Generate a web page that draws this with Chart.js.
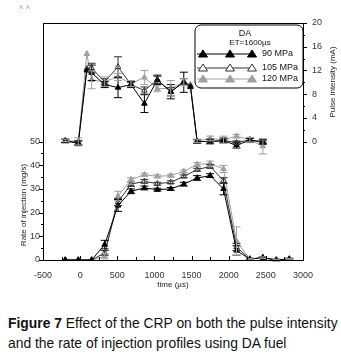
<!DOCTYPE html>
<html>
<head>
<meta charset="utf-8">
<script src="https://cdn.jsdelivr.net/npm/chart.js@4.4.0/dist/chart.umd.min.js"></script>
<style>
  body { margin: 0; background: #fff; width: 341px; height: 356px; overflow: hidden; font-family: "Liberation Sans", Arial, sans-serif; }
  #wrap { position: absolute; left: 0; top: 0; width: 341px; height: 300px; }
  #marks { position: absolute; left: 19px; top: 4px; font-size: 9px; color: #999; }
  #caption { position: absolute; left: 8px; top: 313px; font-family: "Liberation Sans", Arial, sans-serif; font-size: 15px; line-height: 20px; color: #111; white-space: nowrap; transform: scaleX(0.925); transform-origin: 0 0; }
</style>
</head>
<body>
<div id="wrap"><canvas id="chart"></canvas></div>
<div id="marks">^ ^</div>
<div id="caption"><b>Figure 7</b> Effect of the CRP on both the pulse intensity<br>and the rate of injection profiles using DA fuel</div>
<script>
// time axis (µs)
const rateTimes = [-200, -25, 155, 330, 510, 685, 865, 1040, 1220, 1395, 1575, 1750, 1930, 2105, 2285, 2460, 2640, 2815];
const pulseTimes = [-200, -25, 90, 155, 330, 510, 685, 865, 1040, 1220, 1395, 1485, 1575, 1750, 1930, 2105, 2285, 2460];

// rate of injection (mg/s), left axis
const rate90  = [0, 0, 0, 6.5, 23.0, 29.0, 30.4, 29.7, 30.0, 32.0, 34.6, 35.6, 30.0, 4.0, 0.4, 1.0, 0, 0.4];
const rate105 = [0, 0, 0, 3.0, 24.5, 32.0, 33.2, 32.2, 32.8, 35.3, 38.1, 39.5, 33.5, 5.5, 0.4, 1.0, 0, 0.4];
const rate120 = [0, 0, 0, 1.5, 27.0, 33.9, 36.0, 35.3, 35.6, 37.4, 40.3, 40.7, 38.4, 8.0, 0.4, 1.0, 0, 0.4];
const rate90Err  = [0, 0, 0, 1.8, 2.5, 1.0, 0.8, 0.6, 0.6, 0.8, 1.0, 0.8, 2.5, 2.0, 0.3, 0.3, 0.3, 0.3];
const rate105Err = [0, 0, 0, 1.0, 1.5, 1.0, 0.8, 0.6, 0.6, 0.6, 0.6, 0.8, 1.2, 1.5, 0.3, 0.3, 0.3, 0.3];
const rate120Err = [0, 0, 0, 1.0, 2.0, 0.8, 0.6, 0.6, 0.6, 0.6, 0.8, 1.0, 1.5, 6.0, 0.3, 0.3, 0.3, 0.3];

// pulse intensity (mA), right axis
const pulse90  = [0.1, -0.3, 12.0, 11.6, 9.6, 9.1, 9.6, 6.4, 10.4, 8.4, 10.0, 9.2, 0, 0, 0.1, -0.6, 0.2, 0];
const pulse105 = [0.1, -0.2, 12.3, 12.4, 10.1, 12.6, 9.6, 8.6, 10.4, 8.4, 10.1, 9.4, 0, 0, 0.2, -0.2, 0.3, -0.2];
const pulse120 = [0.2, 0, 14.8, 10.4, 10.1, 10.9, 9.8, 10.8, 8.9, 9.0, 10.0, 9.6, 0.1, 0.5, 0.3, 0.9, 0.3, -0.8];
const pulse90Err  = [0.3, 0.4, 0, 1.3, 0.5, 1.7, 0.5, 1.5, 0.8, 1.2, 1.7, 0, 0.3, 0.4, 0.3, 0.5, 0.3, 0.3];
const pulse105Err = [0.3, 0.3, 0, 0.8, 0.5, 1.7, 0.4, 0.6, 0.6, 0.7, 0.5, 0, 0.3, 0.3, 0.4, 0.3, 0.3, 0.3];
const pulse120Err = [0.2, 0.6, 0, 1.5, 0.8, 0.6, 0.5, 1.2, 0.5, 1.3, 0.6, 0, 0.3, 0.4, 0.6, 0.3, 0.4, 1.3];

const seriesNames = ['90 MPa', '105 MPa', '120 MPa'];
const lineColors = ['#000000', '#333333', '#a0a0a0'];
const fillColors = ['#000000', '#ffffff', '#a0a0a0'];

const FONT = '"Liberation Sans", Arial, sans-serif';

function points(times, values) {
    return times.map((t, i) => ({ x: t, y: values[i] }));
}

function makeSet(k, times, values, errs, axis) {
    return {
        label: seriesNames[k],
        data: points(times, values),
        errors: errs,
        yAxisID: axis,
        borderColor: lineColors[k],
        backgroundColor: fillColors[k],
        pointBorderColor: lineColors[k],
        pointBackgroundColor: fillColors[k],
        borderWidth: 1,
        pointStyle: 'triangle',
        pointRadius: 3.2,
        pointBorderWidth: 1,
        tension: 0,
        fill: false
    };
}

const datasets = [
    makeSet(0, rateTimes, rate90, rate90Err, 'y'),
    makeSet(1, rateTimes, rate105, rate105Err, 'y'),
    makeSet(2, rateTimes, rate120, rate120Err, 'y'),
    makeSet(0, pulseTimes, pulse90, pulse90Err, 'y2'),
    makeSet(1, pulseTimes, pulse105, pulse105Err, 'y2'),
    makeSet(2, pulseTimes, pulse120, pulse120Err, 'y2')
];

// error bars with caps
const errorBars = {
    id: 'errorBars',
    afterDatasetsDraw(chart) {
        const ctx = chart.ctx;
        chart.data.datasets.forEach((ds, i) => {
            const meta = chart.getDatasetMeta(i);
            const ys = chart.scales[ds.yAxisID];
            ctx.save();
            ctx.strokeStyle = ds.borderColor;
            ctx.lineWidth = 1;
            ds.data.forEach((p, j) => {
                const e = ds.errors[j];
                if (!e) return;
                const x = meta.data[j].x;
                const y1 = ys.getPixelForValue(p.y + e);
                const y2 = ys.getPixelForValue(p.y - e);
                ctx.beginPath();
                ctx.moveTo(x, y1); ctx.lineTo(x, y2);
                ctx.moveTo(x - 4, y1); ctx.lineTo(x + 4, y1);
                ctx.moveTo(x - 4, y2); ctx.lineTo(x + 4, y2);
                ctx.stroke();
            });
            ctx.restore();
        });
    }
};

// frame, tick marks, axis titles, legend
const decorations = {
    id: 'decorations',
    afterDraw(chart) {
        const ctx = chart.ctx;
        const a = chart.chartArea;
        const sx = chart.scales.x, sy = chart.scales.y, sy2 = chart.scales.y2;
        ctx.save();
        ctx.strokeStyle = '#000';
        ctx.lineWidth = 1;
        ctx.strokeRect(Math.round(a.left) + 0.5, Math.round(a.top) + 0.5, Math.round(a.right - a.left), Math.round(a.bottom - a.top));

        ctx.beginPath();
        for (let v = -500; v <= 3000; v += 250) {
            const x = Math.round(sx.getPixelForValue(v)) + 0.5;
            const len = v % 500 === 0 ? 4 : 3;
            ctx.moveTo(x, a.bottom); ctx.lineTo(x, a.bottom - len);
        }
        for (let v = 0; v <= 50; v += 5) {
            const y = Math.round(sy.getPixelForValue(v)) + 0.5;
            const len = v % 10 === 0 ? 4 : 2;
            ctx.moveTo(a.left, y); ctx.lineTo(a.left - len, y);
        }
        for (let v = 0; v <= 20; v += 2) {
            const y = Math.round(sy2.getPixelForValue(v)) + 0.5;
            const len = v % 4 === 0 ? 4 : 2;
            ctx.moveTo(a.right, y); ctx.lineTo(a.right + len, y);
        }
        ctx.stroke();

        // axis titles
        ctx.fillStyle = '#222';
        ctx.font = '8px ' + FONT;
        ctx.textAlign = 'center';
        ctx.textBaseline = 'middle';
        ctx.fillText('time (µs)', (a.left + a.right) / 2, 285);
        ctx.save();
        ctx.translate(24, 205);
        ctx.rotate(-Math.PI / 2);
        ctx.fillText('Rate of injection (mg/s)', 0, 0);
        ctx.restore();
        ctx.save();
        ctx.translate(333, 82);
        ctx.rotate(-Math.PI / 2);
        ctx.fillText('Pulse intensity (mA)', 0, 0);
        ctx.restore();

        // legend box
        const bx = 195, by = 25, bw = 108, bh = 63, r = 6;
        ctx.beginPath();
        ctx.moveTo(bx + r, by);
        ctx.arcTo(bx + bw, by, bx + bw, by + bh, r);
        ctx.arcTo(bx + bw, by + bh, bx, by + bh, r);
        ctx.arcTo(bx, by + bh, bx, by, r);
        ctx.arcTo(bx, by, bx + bw, by, r);
        ctx.closePath();
        ctx.fillStyle = '#fff';
        ctx.fill();
        ctx.stroke();

        ctx.fillStyle = '#111';
        ctx.font = '9px ' + FONT;
        ctx.fillText('DA', 245, 34);
        ctx.font = '8px ' + FONT;
        ctx.fillText('ET=1600µs', 250, 43);

        const rows = [54, 68, 79];
        rows.forEach((ry, k) => {
            ctx.strokeStyle = lineColors[k];
            ctx.beginPath();
            ctx.moveTo(197, ry); ctx.lineTo(253, ry);
            ctx.stroke();
            [203, 230, 252].forEach(tx => {
                ctx.beginPath();
                ctx.moveTo(tx, ry - 4);
                ctx.lineTo(tx + 4.5, ry + 3);
                ctx.lineTo(tx - 4.5, ry + 3);
                ctx.closePath();
                ctx.fillStyle = fillColors[k];
                ctx.fill();
                ctx.stroke();
            });
            ctx.fillStyle = '#111';
            ctx.font = '9px ' + FONT;
            ctx.textAlign = 'left';
            ctx.fillText(seriesNames[k], 262, ry);
            ctx.textAlign = 'center';
        });
        ctx.restore();
    }
};

const tickFont = { family: FONT, size: 9 };

new Chart(document.getElementById('chart'), {
    type: 'line',
    data: { datasets: datasets },
    options: {
        responsive: true,
        maintainAspectRatio: false,
        animation: false,
        layout: { padding: { top: 23, left: 0, right: 0, bottom: 0 } },
        plugins: { legend: { display: false }, tooltip: { enabled: false } },
        scales: {
            x: {
                type: 'linear',
                position: 'bottom',
                min: -500,
                max: 3000,
                grid: { display: false, drawTicks: false },
                border: { display: false },
                ticks: {
                    stepSize: 500, autoSkip: false, maxRotation: 0, font: tickFont, color: '#333', padding: 10,
                    callback: v => String(v)
                },
                afterFit(s) { s.height = 40; }
            },
            y: {
                position: 'left',
                min: 0,
                max: 100,
                grid: { display: false, drawTicks: false },
                border: { display: false },
                ticks: {
                    stepSize: 10, autoSkip: false, font: tickFont, color: '#333', padding: 3,
                    callback: v => (v <= 50 ? String(v) : '')
                },
                afterFit(s) { s.width = 43; }
            },
            y2: {
                position: 'right',
                min: -20,
                max: 20,
                grid: { display: false, drawTicks: false },
                border: { display: false },
                ticks: {
                    stepSize: 4, autoSkip: false, font: tickFont, color: '#333', padding: 9,
                    callback: v => (v >= 0 ? String(v) : '')
                },
                afterFit(s) { s.width = 38; }
            }
        }
    },
    plugins: [errorBars, decorations]
});
</script>
</body>
</html>
